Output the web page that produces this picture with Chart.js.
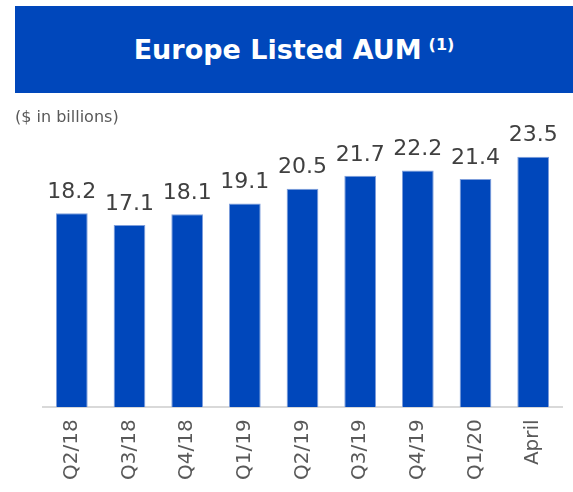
<!DOCTYPE html>
<html>
<head>
<meta charset="utf-8">
<script src="https://cdn.jsdelivr.net/npm/chart.js@4/dist/chart.umd.min.js"></script>
<style>
  html, body { margin: 0; padding: 0; background: #ffffff; }
  #wrap { position: relative; width: 573px; height: 492px; overflow: hidden; font-family: "DejaVu Sans", sans-serif; }
  #banner { position: absolute; left: 15px; top: 6px; width: 558px; height: 87px; background: #0047BB;
    color: #fff; font-weight: bold; font-size: 27px; display: flex; align-items: center; justify-content: center; }
  #banner sup { font-size: 16px; margin-left: 7px; position: relative; top: -5px; }
  #sub { position: absolute; left: 15px; top: 107px; font-size: 16px; color: #595959; }
  #c { position: absolute; left: 0; top: 0; }
</style>
</head>
<body>
<div id="wrap">
  <canvas id="c" width="573" height="492"></canvas>
  <div id="banner"><span>Europe Listed AUM</span><sup>(1)</sup></div>
  <div id="sub">($ in billions)</div>
</div>
<script>
const categories = ["Q2/18", "Q3/18", "Q4/18", "Q1/19", "Q2/19", "Q3/19", "Q4/19", "Q1/20", "April"];
const aumValues = [18.2, 17.1, 18.1, 19.1, 20.5, 21.7, 22.2, 21.4, 23.5];

const valueLabels = {
  id: 'valueLabels',
  afterDatasetsDraw(chart) {
    const ctx = chart.ctx;
    const meta = chart.getDatasetMeta(0);
    ctx.save();
    ctx.font = '22px "DejaVu Sans", sans-serif';
    ctx.fillStyle = '#404040';
    ctx.textAlign = 'center';
    ctx.textBaseline = 'bottom';
    meta.data.forEach((bar, i) => {
      ctx.fillText(aumValues[i].toFixed(1), bar.x, bar.y - 10);
    });
    ctx.restore();
  }
};

new Chart(document.getElementById('c'), {
  type: 'bar',
  data: {
    labels: categories,
    datasets: [{
      data: aumValues,
      backgroundColor: '#0047BB',
      borderColor: '#7f9fdc',
      borderWidth: 1,
      barPercentage: 0.55,
      categoryPercentage: 1.0
    }]
  },
  options: {
    responsive: false,
    animation: false,
    layout: { padding: { top: 130, left: 43, right: 11, bottom: 0 } },
    plugins: { legend: { display: false }, tooltip: { enabled: false } },
    scales: {
      y: { display: false, min: 0, max: 26 },
      x: {
        grid: { display: false, drawTicks: false },
        border: { display: true, color: '#d9d9d9', width: 2 },
        ticks: {
          color: '#595959',
          font: { family: '"DejaVu Sans", sans-serif', size: 20 },
          minRotation: 90, maxRotation: 90,
          padding: 12
        }
      }
    }
  },
  plugins: [valueLabels]
});
</script>
</body>
</html>
